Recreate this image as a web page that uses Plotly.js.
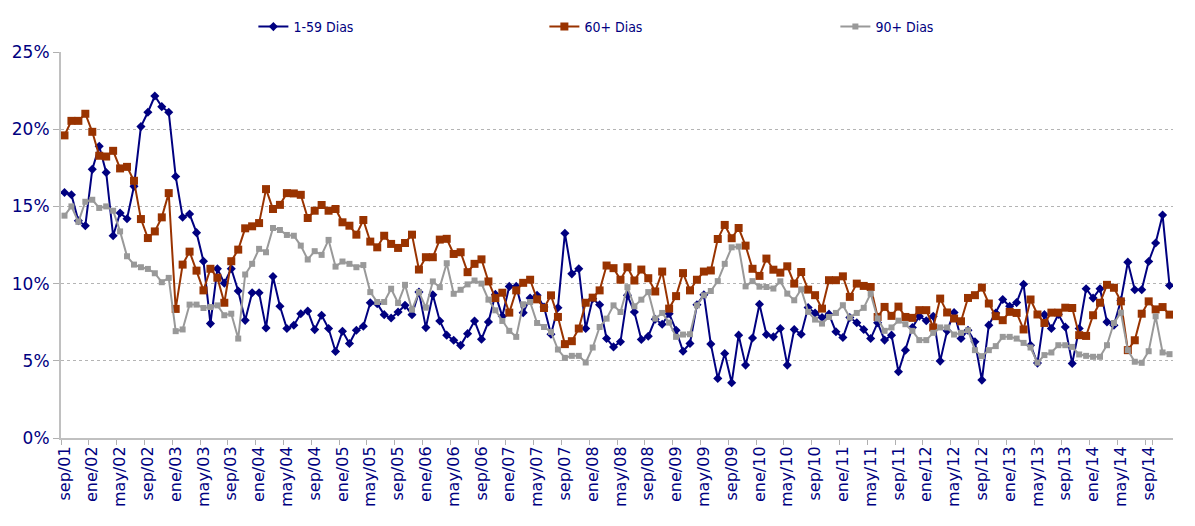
<!DOCTYPE html>
<html>
<head>
<meta charset="utf-8">
<script src="https://cdn.plot.ly/plotly-3.0.1.min.js"></script>
<style>html,body{margin:0;padding:0;background:#fff;}#chart{width:1195px;height:526px;}</style>
</head>
<body>
<div id="chart"></div>
<script>
const categories = [
 'sep/01','oct/01','nov/01','dic/01',
 'ene/02','feb/02','mar/02','abr/02','may/02','jun/02','jul/02','ago/02','sep/02','oct/02','nov/02','dic/02',
 'ene/03','feb/03','mar/03','abr/03','may/03','jun/03','jul/03','ago/03','sep/03','oct/03','nov/03','dic/03',
 'ene/04','feb/04','mar/04','abr/04','may/04','jun/04','jul/04','ago/04','sep/04','oct/04','nov/04','dic/04',
 'ene/05','feb/05','mar/05','abr/05','may/05','jun/05','jul/05','ago/05','sep/05','oct/05','nov/05','dic/05',
 'ene/06','feb/06','mar/06','abr/06','may/06','jun/06','jul/06','ago/06','sep/06','oct/06','nov/06','dic/06',
 'ene/07','feb/07','mar/07','abr/07','may/07','jun/07','jul/07','ago/07','sep/07','oct/07','nov/07','dic/07',
 'ene/08','feb/08','mar/08','abr/08','may/08','jun/08','jul/08','ago/08','sep/08','oct/08','nov/08','dic/08',
 'ene/09','feb/09','mar/09','abr/09','may/09','jun/09','jul/09','ago/09','sep/09','oct/09','nov/09','dic/09',
 'ene/10','feb/10','mar/10','abr/10','may/10','jun/10','jul/10','ago/10','sep/10','oct/10','nov/10','dic/10',
 'ene/11','feb/11','mar/11','abr/11','may/11','jun/11','jul/11','ago/11','sep/11','oct/11','nov/11','dic/11',
 'ene/12','feb/12','mar/12','abr/12','may/12','jun/12','jul/12','ago/12','sep/12','oct/12','nov/12','dic/12',
 'ene/13','feb/13','mar/13','abr/13','may/13','jun/13','jul/13','ago/13','sep/13','oct/13','nov/13','dic/13',
 'ene/14','feb/14','mar/14','abr/14','may/14','jun/14','jul/14','ago/14','sep/14','oct/14','nov/14','dic/14'
];

const tickLabels = [
 'sep/01','ene/02','may/02','sep/02','ene/03','may/03','sep/03','ene/04','may/04','sep/04',
 'ene/05','may/05','sep/05','ene/06','may/06','sep/06','ene/07','may/07','sep/07','ene/08',
 'may/08','sep/08','ene/09','may/09','sep/09','ene/10','may/10','sep/10','ene/11','may/11',
 'sep/11','ene/12','may/12','sep/12','ene/13','may/13','sep/13','ene/14','may/14','sep/14'
];

const seriesNames = ['1-59 Dias', '60+ Dias', '90+ Dias'];

const dias1a59 = [
 15.9,15.75,14.07,13.75,17.4,18.9,17.2,13.1,14.57,14.2,16.3,20.17,21.1,22.15,21.46,21.1,16.94,14.3,14.5,13.3,
 11.45,7.41,10.96,10.03,10.96,9.52,7.62,9.41,9.41,7.13,10.46,8.53,7.09,7.3,8.05,8.23,7.02,7.95,7.09,5.6,
 6.91,6.12,6.98,7.24,8.76,8.7,7.99,7.77,8.16,8.59,7.99,9.45,7.15,9.28,7.58,6.66,6.33,6.0,6.76,7.58,
 6.4,7.52,9.3,7.88,9.82,9.82,8.12,9.06,9.24,8.48,6.72,8.44,13.26,10.63,10.96,7.09,9.02,8.63,6.44,5.9,
 6.23,9.24,8.16,6.38,6.59,7.69,7.37,8.05,6.98,5.62,6.12,8.63,9.28,6.08,3.86,5.47,3.58,6.66,4.72,6.48,
 8.66,6.7,6.55,7.09,4.72,7.03,6.72,8.45,8.1,7.8,8.02,6.88,6.51,7.8,7.46,7.03,6.44,7.46,6.34,6.66,
 4.29,5.69,7.16,7.89,7.59,7.89,4.98,6.94,8.13,6.44,6.98,6.23,3.75,7.31,8.1,8.97,8.53,8.77,9.96,6.01,
 4.85,7.99,7.09,8.01,7.19,4.83,7.09,9.67,9.06,9.67,7.52,7.3,8.91,11.39,9.6,9.6,11.43,12.63,14.44,9.88
];

const dias60mas = [
 19.6,20.54,20.54,21.0,19.83,18.28,18.23,18.6,17.46,17.56,16.66,14.18,12.95,13.38,14.29,15.86,8.36,11.23,12.07,10.84,
 9.56,10.96,10.38,8.76,11.45,12.2,13.58,13.71,13.92,16.12,14.83,15.1,15.86,15.84,15.75,14.25,14.72,15.09,14.72,14.83,
 13.97,13.75,13.17,14.12,12.72,12.35,13.1,12.57,12.31,12.63,13.17,10.91,11.71,11.71,12.85,12.9,11.92,12.03,10.74,11.28,
 11.57,10.14,9.06,9.41,8.12,9.56,10.05,10.25,8.98,8.42,9.24,7.84,6.08,6.27,7.09,8.76,9.09,9.56,11.17,11.0,
 10.25,11.06,10.2,10.91,10.35,9.49,10.78,8.38,9.19,10.68,9.56,10.25,10.78,10.85,12.89,13.8,12.94,13.6,12.46,10.96,
 10.5,11.62,10.9,10.71,11.12,10.0,10.75,9.61,9.25,8.38,10.22,10.22,10.47,9.14,10.0,9.85,9.78,7.84,8.49,7.91,
 8.51,7.84,7.78,8.28,8.28,7.16,9.03,8.13,7.74,7.56,9.07,9.25,9.74,8.71,7.89,7.63,8.17,8.1,7.03,8.97,
 8.0,7.45,8.12,8.12,8.44,8.42,6.66,6.61,7.95,8.76,9.92,9.73,8.85,5.69,6.33,8.05,8.85,8.33,8.48,7.99
];

const dias90mas = [
 14.4,15.0,14.0,15.3,15.43,14.9,15.0,14.72,13.38,11.77,11.23,11.06,10.95,10.67,10.09,10.37,6.92,7.03,8.64,8.64,
 8.42,8.48,8.59,7.95,8.05,6.44,10.59,11.28,12.25,12.03,13.6,13.47,13.15,13.1,12.46,11.56,12.1,11.86,12.83,11.1,
 11.43,11.28,11.06,11.2,9.45,8.81,8.81,9.67,8.74,9.92,8.31,9.45,8.44,10.14,9.77,11.32,9.34,9.6,9.95,10.2,
 10.0,8.96,8.27,7.58,6.94,6.55,8.66,8.81,7.45,7.19,6.87,5.73,5.19,5.32,5.32,4.89,5.86,7.19,7.73,8.59,
 8.16,9.77,8.53,8.96,9.45,7.73,8.1,7.47,6.55,6.7,6.72,8.59,9.24,9.52,10.16,11.28,12.35,12.4,9.82,10.16,
 9.8,9.78,9.68,10.15,9.35,8.92,9.63,8.17,7.67,7.41,7.84,8.1,8.6,7.8,8.1,8.43,9.35,7.74,6.94,7.16,
 7.6,7.37,6.94,6.34,6.34,6.81,7.16,7.16,6.7,6.81,6.98,5.69,5.3,5.69,5.95,6.55,6.55,6.44,6.16,5.86,
 4.88,5.37,5.54,6.01,6.01,5.9,5.41,5.32,5.26,5.26,6.01,7.45,8.12,5.69,4.94,4.87,5.62,7.88,5.54,5.43
];

const textColor = '#000080';
const axisFont = {family: 'Verdana, "DejaVu Sans", sans-serif', size: 16, color: textColor};

const tickVals = categories.filter((c, i) => tickLabels.indexOf(c) >= 0);

const traces = [
  {
    x: categories, y: dias1a59, name: seriesNames[0], type: 'scatter', mode: 'lines+markers',
    line: {color: '#000080', width: 2},
    marker: {symbol: 'diamond', size: 7, color: '#000080'}
  },
  {
    x: categories, y: dias60mas, name: seriesNames[1], type: 'scatter', mode: 'lines+markers',
    line: {color: '#993300', width: 2},
    marker: {symbol: 'square', size: 8, color: '#993300'}
  },
  {
    x: categories, y: dias90mas, name: seriesNames[2], type: 'scatter', mode: 'lines+markers',
    line: {color: '#999999', width: 2},
    marker: {symbol: 'square', size: 6, color: '#999999'}
  }
];

const layout = {
  width: 1195, height: 526,
  margin: {l: 61, r: 22, t: 51, b: 88, pad: 0},
  paper_bgcolor: '#ffffff', plot_bgcolor: '#ffffff',
  showlegend: true,
  legend: {
    orientation: 'h', x: 0.173, xanchor: 'left', y: 1.062, yanchor: 'middle',
    entrywidth: 246, entrywidthmode: 'pixels',
    font: {family: 'Tahoma, "DejaVu Sans Condensed", "Liberation Sans", sans-serif', size: 14, color: textColor},
    bgcolor: 'rgba(0,0,0,0)', borderwidth: 0, traceorder: 'normal'
  },
  xaxis: {
    type: 'category', range: [-0.5, categories.length - 0.5],
    tickmode: 'array', tickvals: tickVals, ticktext: tickLabels,
    tickangle: -90, tickfont: axisFont,
    ticks: 'outside', ticklen: 5, tickcolor: '#b0b0b0', tickwidth: 1, tickson: 'boundaries',
    showgrid: false, zeroline: false,
    showline: true, linecolor: '#c0c0c0', linewidth: 2,
    fixedrange: true
  },
  yaxis: {
    range: [0, 25], dtick: 5, tick0: 0, ticksuffix: '%',
    tickfont: {family: 'Verdana, "DejaVu Sans", sans-serif', size: 17, color: textColor},
    ticks: 'outside', ticklen: 6, tickcolor: '#b0b0b0', tickwidth: 1,
    showgrid: true, gridcolor: '#b4b4b4', gridwidth: 1, griddash: 'dot',
    zeroline: false, showline: true, linecolor: '#c0c0c0', linewidth: 2,
    fixedrange: true
  }
};

Plotly.newPlot('chart', traces, layout, {displayModeBar: false, staticPlot: true});
</script>
</body>
</html>
